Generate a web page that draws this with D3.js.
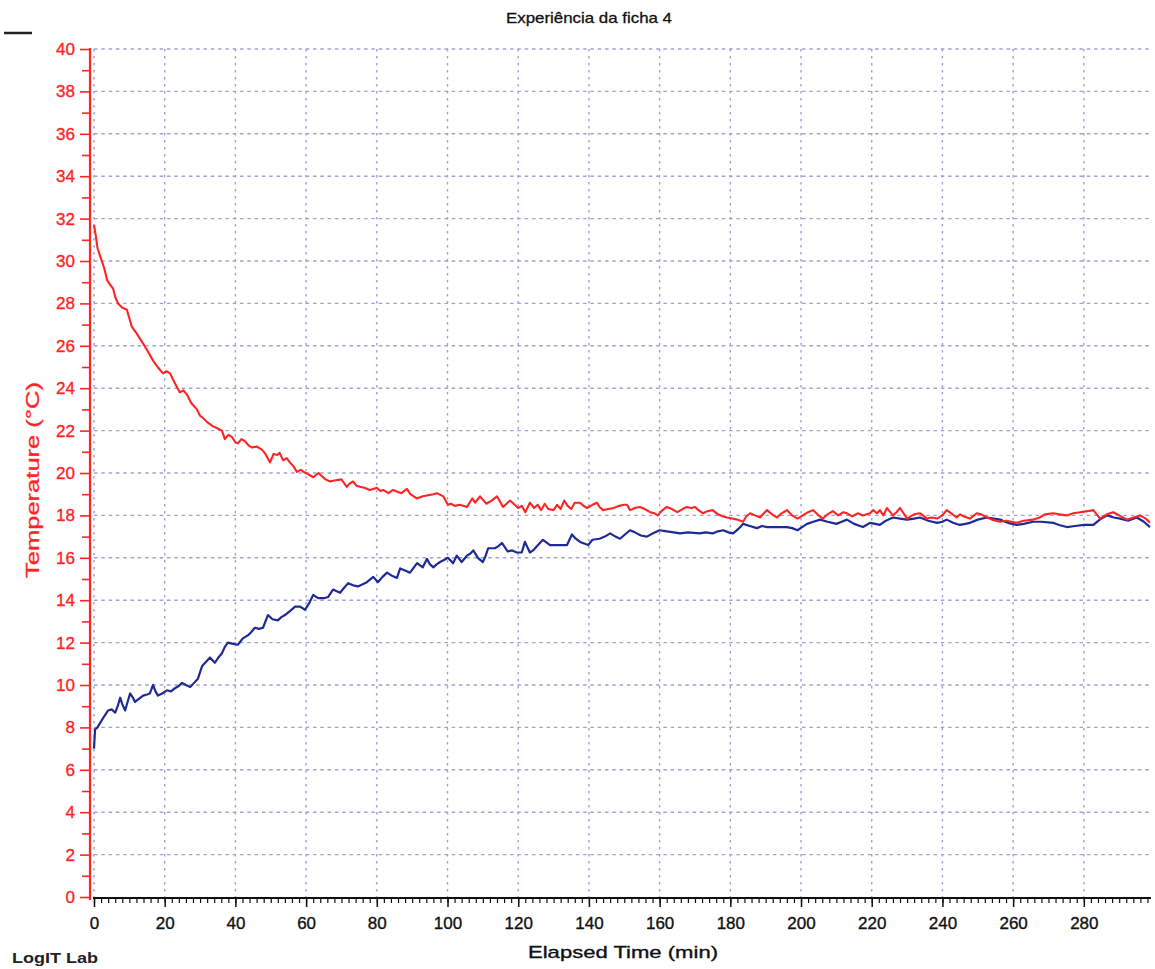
<!DOCTYPE html>
<html>
<head>
<meta charset="utf-8">
<script src="https://cdn.jsdelivr.net/npm/d3@7"></script>
<style>
  html, body { margin: 0; padding: 0; background: #fff; }
  svg { display: block; font-family: "Liberation Sans", Arial, sans-serif; }
</style>
</head>
<body>
<svg id="chart" width="1155" height="969"></svg>
<script>
// Logged temperatures: [elapsed time (min), temperature (°C)]
const sensorWarm = [
  [0,31.7],[0.5,31.2],[1,30.6],[2,30.1],[3,29.6],[3.7,29.1],[4.5,28.9],[5.4,28.7],[6,28.3],[6.8,28.0],
  [8,27.8],[9.3,27.7],[10,27.3],[10.7,26.9],[12,26.6],[13.9,26.1],[15,25.8],[16.7,25.3],[18,25.0],[19.5,24.7],
  [20.5,24.8],[21.5,24.7],[23,24.2],[24.3,23.8],[25.3,23.9],[26.3,23.7],[27.5,23.3],[29.1,23.0],[30,22.7],[30.8,22.6],
  [32,22.4],[33.7,22.2],[35,22.1],[36.2,22.0],[37,21.6],[38,21.8],[39,21.7],[40,21.45],[40.7,21.4],[41.7,21.6],
  [42.7,21.5],[43.7,21.3],[44.7,21.2],[46,21.25],[47.5,21.1],[48.5,20.9],[49.8,20.5],[50.8,20.9],[51.8,20.85],[52.5,20.95],
  [53.5,20.6],[54.5,20.7],[55.4,20.5],[56.5,20.3],[57.4,20.05],[58.5,20.15],[59.3,20.05],[60.5,19.95],[62,19.8],[63.5,20.0],
  [64.5,19.85],[65.5,19.7],[66.8,19.6],[68,19.65],[70,19.7],[71.5,19.35],[72.3,19.5],[73.3,19.6],[74.2,19.4],[75.2,19.35],
  [76.5,19.3],[78,19.2],[79,19.25],[80,19.3],[81,19.15],[81.8,19.2],[83.3,19.05],[84.6,19.2],[86,19.1],[87,19.05],
  [88.5,19.25],[89.5,19.0],[91.3,18.8],[93,18.9],[94.5,18.95],[96,19.0],[97,19.05],[98.8,18.9],[100.1,18.5],[101,18.55],
  [102,18.45],[103.5,18.5],[105.5,18.4],[107,18.8],[107.8,18.6],[109.2,18.9],[111,18.55],[112.5,18.7],[114,18.9],[115.7,18.4],
  [117.7,18.7],[119,18.5],[120,18.35],[121,18.45],[122,18.15],[123.3,18.6],[124.5,18.35],[125.5,18.5],[126.5,18.25],[127.5,18.55],
  [128.5,18.3],[130,18.25],[131,18.5],[132,18.3],[133,18.7],[134,18.45],[135,18.3],[136,18.6],[137.5,18.6],[138.5,18.45],
  [139.5,18.35],[141,18.5],[142.3,18.6],[143,18.4],[144,18.25],[145.5,18.3],[147,18.35],[148.5,18.45],[150,18.5],[150.8,18.5],
  [151.6,18.25],[153,18.35],[154.4,18.4],[155.8,18.3],[157.3,18.15],[158.5,18.1],[159.5,18.0],[160.5,18.2],[162,18.4],[163.5,18.3],
  [165,18.15],[166.5,18.3],[167.7,18.4],[169,18.35],[170,18.4],[171,18.25],[172.3,18.1],[173.5,18.2],[175,18.25],[176.5,18.05],
  [178,17.95],[179,17.9],[180.5,17.85],[182,17.8],[183.6,17.7],[184.5,17.95],[185.6,18.1],[187,18.0],[188.4,17.9],[189.5,18.1],
  [190.4,18.25],[191.8,18.05],[193.2,17.9],[194.5,18.1],[196,18.25],[197.5,18.0],[199,17.85],[200.5,18.0],[202,18.15],[203.4,18.25],
  [205,18.0],[206.2,17.85],[207.5,18.05],[209,18.2],[210.5,18.0],[212,18.15],[213,18.1],[214.5,17.95],[216,18.1],[217.5,18.0],
  [219.5,18.1],[220.4,18.25],[221.5,18.1],[222.3,18.25],[223.3,18.0],[224.3,18.35],[225,18.2],[226,18.0],[227,18.15],[228,18.35],
  [229,18.1],[230,17.85],[231,17.95],[232,18.05],[233.7,18.1],[234.5,18.0],[235.6,17.85],[237,17.9],[238.5,17.85],[240,18.0],
  [241.2,18.25],[242.5,18.1],[244,17.9],[245,18.05],[246,17.95],[247.8,17.85],[249.7,18.1],[251,18.05],[252.6,17.9],[254,17.8],
  [256.3,17.7],[258,17.75],[259.5,17.7],[261,17.65],[263,17.75],[265.6,17.8],[267.5,17.9],[269,18.05],[271.3,18.1],[273,18.05],
  [275.2,18.0],[277,18.1],[279,18.15],[281,18.2],[282.7,18.25],[284.6,17.85],[286.5,18.05],[288.3,18.15],[290,18.0],[292.2,17.8],
  [294,17.9],[295.9,18.0],[297.5,17.85],[298.7,17.65]
];

const sensorCold = [
  [0,7.0],[0.3,7.9],[1,8.0],[1.7,8.2],[2.8,8.5],[4,8.8],[5,8.85],[6,8.7],[6.7,9.0],[7.4,9.4],
  [8,9.1],[8.8,8.8],[9.5,9.2],[10.2,9.6],[11,9.4],[11.6,9.2],[12.7,9.35],[13.9,9.5],[15,9.55],[15.8,9.6],
  [16.7,10.0],[17.4,9.7],[18.1,9.5],[19.3,9.6],[20.6,9.75],[21.8,9.7],[22.9,9.85],[24,9.95],[24.9,10.1],[26,10.0],
  [27.2,9.9],[28.3,10.1],[29.4,10.3],[30.6,10.9],[31.7,11.1],[32.8,11.3],[34.2,11.05],[35.2,11.3],[36.2,11.5],[37,11.8],
  [37.9,12.0],[39,11.95],[40.7,11.9],[42.1,12.2],[43.6,12.35],[44.5,12.5],[45.5,12.7],[46.7,12.65],[47.8,12.7],[49.2,13.3],
  [50.5,13.1],[52,13.05],[53,13.2],[54,13.3],[55.5,13.5],[56.9,13.7],[58.3,13.7],[59.7,13.55],[61,13.9],[62,14.25],
  [63.4,14.1],[64,14.1],[65.3,14.1],[66.2,14.15],[67.6,14.5],[69.6,14.35],[70.8,14.6],[71.9,14.8],[73.3,14.7],[74.7,14.65],
  [76,14.75],[77.2,14.85],[79,15.1],[80.3,14.85],[81.6,15.1],[82.9,15.3],[84.3,15.15],[85.7,15.05],[86.6,15.5],[88,15.4],
  [89.4,15.3],[90.5,15.55],[91.4,15.75],[93,15.55],[94.2,15.95],[95,15.7],[96,15.55],[97,15.7],[97.9,15.8],[99,15.9],
  [100.1,16.0],[101.6,15.75],[102.6,16.1],[104,15.8],[105.5,16.1],[106.5,16.2],[107.3,16.35],[108.6,16.0],[110,15.8],[110.8,16.1],
  [111.5,16.45],[113.4,16.45],[114.4,16.55],[115.4,16.7],[117,16.3],[118.3,16.35],[119.6,16.25],[121,16.25],[121.9,16.75],[123.3,16.25],
  [124.2,16.35],[125.6,16.6],[127,16.85],[129,16.6],[131.5,16.6],[133.8,16.6],[135.2,17.1],[136.3,16.9],[137.5,16.75],[139.8,16.6],
  [141,16.85],[143,16.9],[144.5,17.0],[146,17.15],[147.5,17.0],[148.8,16.9],[150.2,17.1],[151.6,17.3],[153,17.2],[154.7,17.05],
  [156.4,17.0],[158,17.15],[160,17.3],[162,17.25],[164,17.2],[165.8,17.15],[168,17.2],[171.4,17.15],[173,17.2],[175,17.15],
  [176.5,17.25],[178,17.3],[179.5,17.2],[180.8,17.15],[182.2,17.35],[183.6,17.6],[185.5,17.5],[187.5,17.4],[189,17.5],[190.4,17.45],
  [193,17.45],[196,17.45],[197.5,17.4],[199,17.3],[200.3,17.45],[201.7,17.6],[203.5,17.7],[205.4,17.8],[207.5,17.7],[210,17.6],
  [211.5,17.7],[213,17.8],[215,17.6],[217.5,17.45],[218.5,17.55],[219.5,17.65],[221,17.6],[222.3,17.55],[224,17.75],[226,17.9],
  [228,17.85],[230,17.8],[232,17.85],[233.7,17.9],[236,17.75],[238.5,17.65],[240,17.7],[241.2,17.8],[243,17.65],[244.9,17.55],
  [246.5,17.6],[247.8,17.65],[250,17.8],[252.6,17.9],[254.5,17.85],[256.3,17.8],[258.5,17.65],[261,17.55],[263,17.6],[265.6,17.7],
  [268,17.7],[271.3,17.65],[273,17.55],[275.2,17.45],[277.5,17.5],[280,17.55],[282.7,17.55],[284.5,17.8],[286.6,18.0],[288.5,17.9],
  [290.3,17.85],[292.5,17.75],[295,17.9],[297,17.7],[298.7,17.45]
];

const timeTicks = d3.range(0, 281, 20);
const timeMinorTicks = d3.range(0, 299, 2);
const tempTicks = d3.range(0, 41, 2);
const tempMinorTicks = d3.range(1, 40, 2);

const titleText = "Experiência da ficha 4";
const xLabelText = "Elapsed Time (min)";
const yLabelText = "Temperature (°C)";
const brandText = "LogIT Lab";

const svg = d3.select("#chart");
const RED = "#ff2424";
const BLUE = "#1f2a96";
const GRID = "#a0a2d0";

const x = d3.scaleLinear().domain([0, 299]).range([94, 1151]);
const y = d3.scaleLinear().domain([0, 40]).range([897, 49]);

svg.append("rect").attr("width", 1155).attr("height", 969).attr("fill", "#fff");

// dashed grid
const grid = svg.append("g").attr("stroke", GRID).attr("stroke-width", 1.4).attr("fill", "none");
grid.selectAll("line.h").data(tempTicks.filter(d => d > 0)).join("line")
  .attr("class", "h")
  .attr("x1", x(0)).attr("x2", x(299))
  .attr("y1", d => y(d)).attr("y2", d => y(d))
  .attr("stroke-dasharray", "3.5,3.8");
grid.selectAll("line.v").data(timeTicks).join("line")
  .attr("class", "v")
  .attr("x1", d => x(d)).attr("x2", d => x(d))
  .attr("y1", y(40)).attr("y2", y(0))
  .attr("stroke-dasharray", "2.5,4.5");

// data lines
const line = d3.line().x(d => x(d[0])).y(d => y(d[1]));
svg.append("path").datum(sensorCold)
  .attr("fill", "none").attr("stroke", BLUE).attr("stroke-width", 2.2)
  .attr("stroke-linejoin", "round").attr("d", line);
svg.append("path").datum(sensorWarm)
  .attr("fill", "none").attr("stroke", RED).attr("stroke-width", 2.1)
  .attr("stroke-linejoin", "round").attr("d", line);

// x axis
const xAxisG = svg.append("g").attr("transform", `translate(0,${y(0) + 1})`);
xAxisG.append("g")
  .call(d3.axisBottom(x).tickValues(timeMinorTicks).tickSize(5).tickFormat(""))
  .call(g => g.selectAll("line").attr("stroke", "#111").attr("stroke-width", 1.2))
  .call(g => g.select(".domain").remove());
xAxisG.append("g")
  .call(d3.axisBottom(x).tickValues(timeTicks).tickSize(9).tickPadding(10).tickFormat(d3.format("d")))
  .call(g => g.select(".domain").remove())
  .call(g => g.selectAll("line").attr("stroke", "#111").attr("stroke-width", 1.5))
  .call(g => g.selectAll("text").attr("fill", "#111").attr("font-size", 17)
    .attr("stroke", "#111").attr("stroke-width", 0.35)
    .attr("font-family", "'Liberation Sans', Arial, sans-serif"));
xAxisG.append("line").attr("x1", x(0) - 1).attr("x2", x(299)).attr("y1", 0).attr("y2", 0)
  .attr("stroke", "#111").attr("stroke-width", 2.2);

// y axis (red), sits just left of t = 0
const yAxisG = svg.append("g").attr("transform", `translate(${x(0) - 4},0)`);
yAxisG.append("g")
  .call(d3.axisLeft(y).tickValues(tempMinorTicks).tickSize(8).tickFormat(""))
  .call(g => g.select(".domain").remove())
  .call(g => g.selectAll("line").attr("stroke", RED).attr("stroke-width", 1.6));
yAxisG.append("g")
  .call(d3.axisLeft(y).tickValues(tempTicks).tickSize(10).tickPadding(5).tickFormat(d3.format("d")))
  .call(g => g.select(".domain").remove())
  .call(g => g.selectAll("line").attr("stroke", RED).attr("stroke-width", 1.6))
  .call(g => g.selectAll("text").attr("fill", RED).attr("font-size", 17)
    .attr("stroke", RED).attr("stroke-width", 0.35)
    .attr("font-family", "'Liberation Sans', Arial, sans-serif"));
yAxisG.append("line").attr("x1", 0).attr("x2", 0).attr("y1", y(40) - 1).attr("y2", y(0) + 3)
  .attr("stroke", RED).attr("stroke-width", 2.2);

// texts
svg.append("text").attr("x", 589).attr("y", 23).attr("text-anchor", "middle")
  .attr("font-size", 15).attr("fill", "#111").attr("stroke", "#111").attr("stroke-width", 0.3)
  .attr("textLength", 166).attr("lengthAdjust", "spacingAndGlyphs")
  .text(titleText);
svg.append("text").attr("x", 623).attr("y", 958).attr("text-anchor", "middle")
  .attr("font-size", 17).attr("fill", "#111").attr("stroke", "#111").attr("stroke-width", 0.35)
  .attr("textLength", 190).attr("lengthAdjust", "spacingAndGlyphs")
  .text(xLabelText);
svg.append("text").attr("transform", "translate(39,480) rotate(-90)").attr("text-anchor", "middle")
  .attr("font-size", 18).attr("fill", RED).attr("stroke", RED).attr("stroke-width", 0.3)
  .attr("textLength", 196).attr("lengthAdjust", "spacingAndGlyphs")
  .text(yLabelText);
svg.append("text").attr("x", 12).attr("y", 963)
  .attr("font-size", 14).attr("font-weight", "bold").attr("fill", "#222")
  .attr("textLength", 86).attr("lengthAdjust", "spacingAndGlyphs")
  .text(brandText);

// short dark mark at the top-left corner
svg.append("line").attr("x1", 4).attr("x2", 32).attr("y1", 33).attr("y2", 33)
  .attr("stroke", "#222").attr("stroke-width", 2.5);
</script>
</body>
</html>
